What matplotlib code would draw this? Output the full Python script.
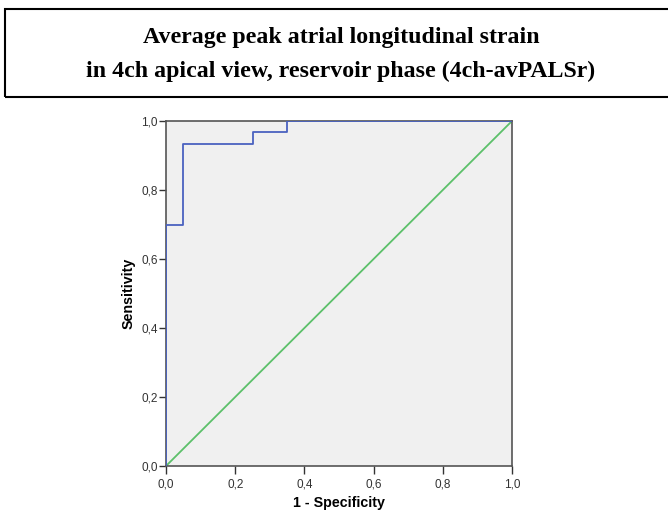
import matplotlib
matplotlib.use("Agg")
import matplotlib.pyplot as plt
from matplotlib.patches import Rectangle
from matplotlib.ticker import FuncFormatter

# ROC curve (1 - specificity, sensitivity)
fpr = [0.0, 0.0, 0.05, 0.05, 0.25, 0.25, 0.35, 0.35, 1.0]
tpr = [0.0, 0.70, 0.70, 0.933, 0.933, 0.967, 0.967, 1.0, 1.0]
ref_line = [0.0, 1.0]
ticks = [0.0, 0.2, 0.4, 0.6, 0.8, 1.0]

title_lines = ["Average peak atrial longitudinal strain",
               "in 4ch apical view, reservoir phase (4ch-avPALSr)"]

fig = plt.figure(figsize=(6.68, 5.11), dpi=100)

# title box
fig.patches.append(Rectangle((5 / 668, 1 - 97 / 511), 1.0, 88 / 511,
                             transform=fig.transFigure, fill=False,
                             edgecolor="black", linewidth=1.5))
fig.text(341 / 668, 1 - 37 / 511, title_lines[0], ha="center", va="center",
         family="Liberation Serif", fontweight="bold", fontsize=17.2)
fig.text(341 / 668, 1 - 71 / 511, title_lines[1], ha="center", va="center",
         family="Liberation Serif", fontweight="bold", fontsize=17.2)

ax = fig.add_axes([166 / 668, 1 - 466 / 511, 346 / 668, 345 / 511])
ax.set_facecolor("#f0f0f0")
ax.plot(fpr, tpr, color="#4a62c0", linewidth=1.3, zorder=3)
ax.plot(ref_line, ref_line, color="#5cc06a", linewidth=1.3, zorder=2)
ax.set_xlim(0, 1)
ax.set_ylim(0, 1)
ax.set_xticks(ticks)
ax.set_yticks(ticks)
fmt = FuncFormatter(lambda v, p: f"{v:.1f}".replace(".", ","))
ax.xaxis.set_major_formatter(fmt)
ax.yaxis.set_major_formatter(fmt)
ax.tick_params(direction="out", width=1, color="#333333",
               labelsize=8.5, labelcolor="#333333")
ax.tick_params(axis="x", length=6, pad=3)
ax.tick_params(axis="y", length=5, pad=1)
for lab in ax.get_xticklabels() + ax.get_yticklabels():
    lab.set_family("Liberation Sans")
for s in ax.spines.values():
    s.set_color("#555555")
    s.set_linewidth(1.2)
ax.set_xlabel("1 - Specificity", fontsize=10.3, fontweight="bold",
              family="Liberation Sans", va="center")
ax.xaxis.set_label_coords(0.5, -0.107)
ax.set_ylabel("Sensitivity", fontsize=10.3, fontweight="bold",
              family="Liberation Sans", labelpad=4)

fig.savefig("out.png", dpi=100)
